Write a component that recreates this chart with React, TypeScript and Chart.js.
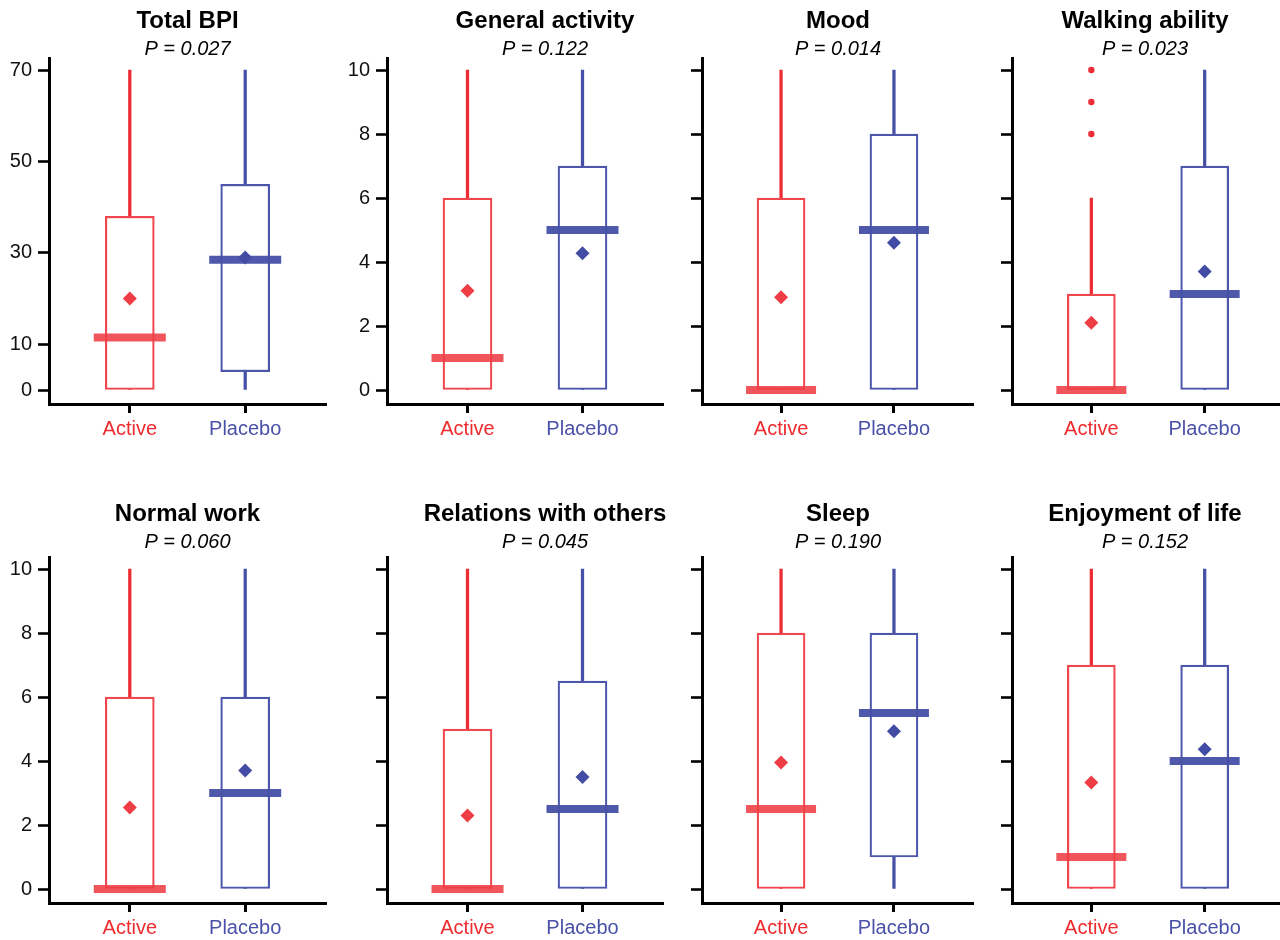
import React, { useEffect, useRef } from 'react';
import { Chart, registerables } from 'chart.js';

Chart.register(...registerables);

// ---------------- data ----------------
const categories = ['Active', 'Placebo'];
const categoryX = [1, 2];

const panelTitles = [
  'Total BPI',
  'General activity',
  'Mood',
  'Walking ability',
  'Normal work',
  'Relations with others',
  'Sleep',
  'Enjoyment of life',
];
const pValues = ['0.027', '0.122', '0.014', '0.023', '0.060', '0.045', '0.190', '0.152'];
// panels whose y axis shows tick labels
const labelledPanels = [0, 1, 4];

// each entry: [Active, Placebo]
const whiskerLow = [[0, 0], [0, 0], [0, 0], [0, 0], [0, 0], [0, 0], [0, 0], [0, 0]];
const whiskerHigh = [[70, 70], [10, 10], [10, 10], [6, 10], [10, 10], [10, 10], [10, 10], [10, 10]];
const quartile1 = [[0, 4], [0, 0], [0, 0], [0, 0], [0, 0], [0, 0], [0, 1], [0, 0]];
const quartile3 = [[38, 45], [6, 7], [6, 8], [3, 7], [6, 6], [5, 6.5], [8, 8], [7, 7]];
const medians = [[11.5, 28.5], [1, 5], [0, 5], [0, 3], [0, 3], [0, 2.5], [2.5, 5.5], [1, 4]];
const means = [[20, 29], [3.1, 4.27], [2.9, 4.6], [2.1, 3.7], [2.55, 3.7], [2.3, 3.5], [3.95, 4.93], [3.33, 4.37]];
// outliers of the Active group (per panel)
const activeOutliers = [[], [], [], [10, 9, 8], [], [], [], []];

const bpiTicks = [0, 10, 30, 50, 70];
const subscaleTicks = [0, 2, 4, 6, 8, 10];

// ---------------- styles / layout ----------------
const FONT = '"Liberation Sans", Arial, Helvetica, sans-serif';
const RED_WHISKER = '#EC2E34';
const RED_BOX = '#F0464D';
const RED_MEDIAN = 'rgba(238, 62, 70, 0.88)';
const RED_MEAN = '#EE3D45';
const BLUE_WHISKER = '#4550A6';
const BLUE_BOX = '#4C56AB';
const BLUE_MEDIAN = 'rgba(68, 80, 168, 0.95)';
const BLUE_MEAN = '#424CA4';
const ACTIVE_LABEL = '#EE2B2E';
const PLACEBO_LABEL = '#4A51A8';

const COLS = [
  { left: 0, axisLeft: 49, right: 326, center: 187.5 },
  { left: 340, axisLeft: 387, right: 663, center: 545 },
  { left: 670, axisLeft: 702, right: 973, center: 838 },
  { left: 980, axisLeft: 1012, right: 1284, center: 1145 },
];
const ROWS = [
  { top: 0, height: 450, chartBottom: 404, titlePad: { top: 9, bottom: 7.5 }, subPad: { top: 0, bottom: 0 } },
  { top: 480, height: 470, chartBottom: 423, titlePad: { top: 22, bottom: 7 }, subPad: { top: 0, bottom: 6.5 } },
];

function geom(i: number) {
  const C = COLS[i % 4];
  const R = ROWS[Math.floor(i / 4)];
  const w = 2 * (C.center - C.left);
  return {
    left: C.left,
    top: R.top,
    w,
    h: R.height,
    yw: C.axisLeft - C.left,
    rightPad: C.left + w - C.right,
    xh: R.height - R.chartBottom,
    chartW: C.right - C.axisLeft,
    R,
  };
}

function makeConfig(i: number): any {
  const g = geom(i);
  const isBpi = i === 0;
  const tickVals = isBpi ? bpiTicks : subscaleTicks;
  const yMin = isBpi ? -3.06 : -0.4375;
  const yMax = isBpi ? 72.52 : 10.36;
  const showY = labelledPanels.includes(i);
  const boxW = Math.round(0.177 * g.chartW);
  const medR = Math.round(0.13 * g.chartW);

  const datasets: any[] = [
    {
      type: 'bar',
      label: 'Range',
      data: categoryX.map((x, k) => ({ x, y: [whiskerLow[i][k], whiskerHigh[i][k]] })),
      backgroundColor: [RED_WHISKER, BLUE_WHISKER],
      borderWidth: 0,
      barThickness: 2.6,
      grouped: false,
      order: 5,
    },
    {
      type: 'bar',
      label: 'IQR',
      data: categoryX.map((x, k) => ({ x, y: [quartile1[i][k], quartile3[i][k]] })),
      backgroundColor: '#ffffff',
      borderColor: [RED_BOX, BLUE_BOX],
      borderWidth: 2.2,
      borderSkipped: false,
      barThickness: boxW,
      grouped: false,
      order: 4,
    },
    {
      type: 'scatter',
      label: 'Median',
      data: categoryX.map((x, k) => ({ x, y: medians[i][k] })),
      pointStyle: 'line',
      pointRadius: medR,
      pointBorderWidth: 8,
      pointBorderColor: [RED_MEDIAN, BLUE_MEDIAN],
      pointBackgroundColor: [RED_MEDIAN, BLUE_MEDIAN],
      order: 2,
    },
    {
      type: 'scatter',
      label: 'Mean',
      data: categoryX.map((x, k) => ({ x, y: means[i][k] })),
      pointStyle: 'rectRot',
      pointRadius: 7,
      pointBorderWidth: 0,
      pointBackgroundColor: [RED_MEAN, BLUE_MEAN],
      order: 1,
    },
    {
      type: 'scatter',
      label: 'Outliers',
      data: activeOutliers[i].map((v) => ({ x: categoryX[0], y: v })),
      pointStyle: 'circle',
      pointRadius: 3.2,
      pointBorderWidth: 0,
      pointBackgroundColor: RED_WHISKER,
      order: 1,
    },
  ];

  return {
    type: 'bar',
    data: { datasets },
    options: {
      animation: false,
      responsive: false,
      maintainAspectRatio: false,
      devicePixelRatio: 1,
      events: [],
      layout: { padding: 0, autoPadding: false },
      plugins: {
        legend: { display: false },
        tooltip: { enabled: false },
        title: {
          display: true,
          text: panelTitles[i],
          color: '#000',
          fullSize: true,
          font: { family: FONT, size: 24, weight: 'bold', lineHeight: 1 },
          padding: g.R.titlePad,
        },
        subtitle: {
          display: true,
          text: 'P = ' + pValues[i],
          color: '#000',
          fullSize: true,
          font: { family: FONT, size: 20, style: 'italic', lineHeight: 0.9 },
          padding: g.R.subPad,
        },
      },
      scales: {
        x: {
          type: 'linear',
          min: 0.3,
          max: 2.7,
          offset: false,
          afterBuildTicks: (s: any) => {
            s.ticks = categoryX.map((v) => ({ value: v }));
          },
          afterFit: (s: any) => {
            s.height = g.xh;
          },
          ticks: {
            autoSkip: false,
            maxRotation: 0,
            padding: 4,
            font: { family: FONT, size: 20 },
            color: (c: any) => (c.index === 0 ? ACTIVE_LABEL : PLACEBO_LABEL),
            callback: (v: any) => {
              const k = categoryX.indexOf(Number(v));
              return k >= 0 ? categories[k] : '';
            },
          },
          grid: {
            display: true,
            offset: false,
            drawOnChartArea: false,
            drawTicks: true,
            tickLength: 9,
            tickWidth: 3,
            tickColor: '#000',
          },
          border: { display: true, width: 3, color: '#000' },
        },
        y: {
          type: 'linear',
          position: 'left',
          min: yMin,
          max: yMax,
          afterBuildTicks: (s: any) => {
            s.ticks = tickVals.map((v) => ({ value: v }));
          },
          afterFit: (s: any) => {
            s.width = g.yw;
          },
          ticks: {
            padding: 6,
            font: { family: FONT, size: 20 },
            color: '#111',
            callback: (v: any) => (showY ? String(v) : ''),
          },
          grid: {
            display: true,
            drawOnChartArea: false,
            drawTicks: true,
            tickLength: 11,
            tickWidth: 2.6,
            tickColor: '#000',
          },
          border: { display: true, width: 3, color: '#000' },
        },
        spacer: {
          type: 'linear',
          position: 'right',
          display: true,
          grid: { display: false, drawTicks: false },
          border: { display: false },
          ticks: { display: false },
          afterFit: (s: any) => {
            s.width = g.rightPad;
          },
        },
      },
    },
  };
}

export default function App() {
  const refs = useRef<(HTMLCanvasElement | null)[]>([]);

  useEffect(() => {
    const charts = panelTitles.map((_, i) => new Chart(refs.current[i] as HTMLCanvasElement, makeConfig(i)));
    return () => {
      charts.forEach((c) => c.destroy());
    };
  }, []);

  return (
    <div
      style={{
        position: 'absolute',
        left: 0,
        top: 0,
        width: 1280,
        height: 940,
        overflow: 'hidden',
        background: '#ffffff',
      }}
    >
      {panelTitles.map((t, i) => {
        const g = geom(i);
        return (
          <canvas
            key={t}
            ref={(el) => {
              refs.current[i] = el;
            }}
            width={g.w}
            height={g.h}
            style={{ position: 'absolute', left: g.left, top: g.top, width: g.w, height: g.h }}
          />
        );
      })}
    </div>
  );
}
